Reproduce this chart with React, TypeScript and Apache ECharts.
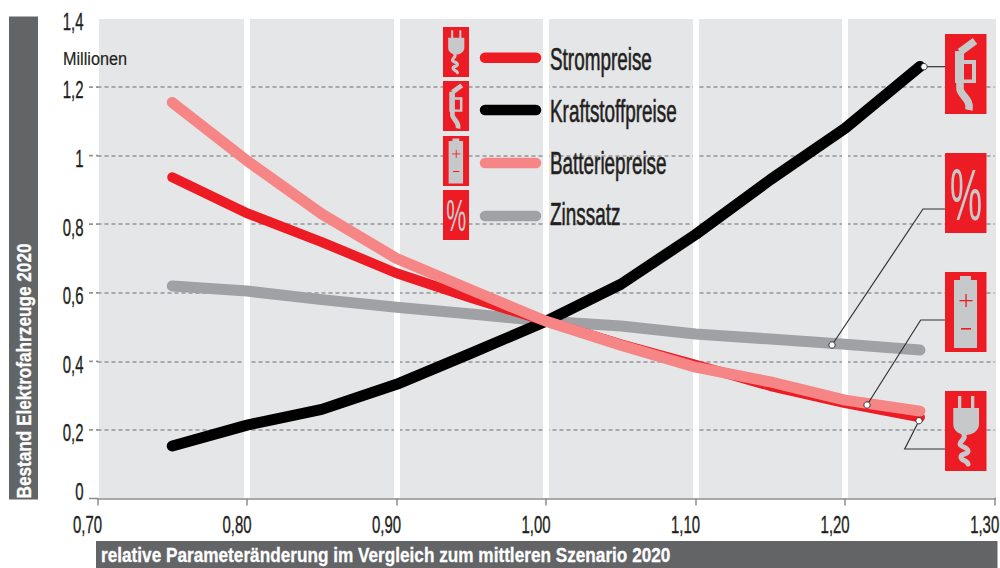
import React, { useEffect, useRef } from "react";
import * as echarts from "echarts";

const xValues = [0.75, 0.8, 0.85, 0.9, 0.95, 1.0, 1.05, 1.1, 1.15, 1.2, 1.25];
const strompreise = [0.937, 0.832, 0.748, 0.657, 0.585, 0.517, 0.45, 0.39, 0.328, 0.278, 0.237];
const kraftstoffpreise = [0.153, 0.214, 0.26, 0.333, 0.424, 0.517, 0.625, 0.77, 0.93, 1.08, 1.26];
const batteriepreise = [1.155, 0.985, 0.83, 0.7, 0.608, 0.517, 0.447, 0.383, 0.34, 0.287, 0.255];
const zinssatz = [0.62, 0.605, 0.58, 0.558, 0.538, 0.517, 0.503, 0.48, 0.465, 0.45, 0.433];

const xTicks = [0.7, 0.8, 0.9, 1.0, 1.1, 1.2, 1.3];
const xTickLabels = ["0,70", "0,80", "0,90", "1,00", "1,10", "1,20", "1,30"];
const yTicks = [0, 0.2, 0.4, 0.6, 0.8, 1.0, 1.2, 1.4];
const yTickLabels = ["0", "0,2", "0,4", "0,6", "0,8", "1", "1,2", "1,4"];

const legendNames = ["Strompreise", "Kraftstoffpreise", "Batteriepreise", "Zinssatz"];
const yAxisTitle = "Bestand Elektrofahrzeuge 2020";
const xAxisTitle = "relative Parameteränderung im Vergleich zum mittleren Szenario 2020";
const unitLabel = "Millionen";

const RED = "#ED1C24";
const PINK = "#F68685";
const BLACK = "#000000";
const GREY = "#A0A1A4";
const ICON = "#C7C8CA";
const DARK = "#636466";
const INK = "#231F20";
const FONT = '"Liberation Sans", Arial, sans-serif';

echarts.graphic.registerShape(
  "plugBody",
  echarts.graphic.extendPath(
    "M13 5H16.3V17H26V5H29.3V17H34V33C34 40 27 44 21 44C15 44 8 40 8.3 33V17H13Z",
    {}
  )
);
echarts.graphic.registerShape(
  "plugCord",
  echarts.graphic.extendPath("M19 44C21 48 15 50 15 53C15 56 23 56 23 60C23 64 16 62 16 66C16 70 22 69 23 73", {})
);
echarts.graphic.registerShape(
  "pumpBody",
  echarts.graphic.extendPath("M10 17H19V26H31V49H10ZM19 30V45.5H27V30Z", {})
);
echarts.graphic.registerShape(
  "pumpLine",
  echarts.graphic.extendPath("M30 7L15 18M15 48V55C16 62 26 65 24 76", {})
);

function icon(kind: string, x: number, y: number, sx: number, sy: number) {
  const children: any[] = [{ type: "rect", shape: { x: 0, y: 0, width: 41.5, height: 80 }, style: { fill: RED } }];
  if (kind === "plug") {
    children.push({ type: "plugBody", style: { fill: ICON } });
    children.push({ type: "plugCord", style: { fill: "none", stroke: ICON, lineWidth: 5, lineCap: "round" } });
  } else if (kind === "pump") {
    children.push({ type: "pumpLine", style: { fill: "none", stroke: ICON, lineWidth: 7.5 } });
    children.push({ type: "pumpBody", style: { fill: ICON } });
  } else if (kind === "battery") {
    children.push({ type: "rect", shape: { x: 15, y: 4, width: 11, height: 5 }, style: { fill: ICON } });
    children.push({ type: "rect", shape: { x: 9, y: 8, width: 23, height: 68 }, style: { fill: ICON } });
    children.push({ type: "rect", shape: { x: 14.5, y: 28, width: 13, height: 1.3 }, style: { fill: RED } });
    children.push({ type: "rect", shape: { x: 20.4, y: 22, width: 1.3, height: 13 }, style: { fill: RED } });
    children.push({ type: "rect", shape: { x: 16, y: 56, width: 10, height: 1.6 }, style: { fill: RED } });
  } else {
    children.push({
      type: "text",
      x: 21,
      y: 42,
      scaleX: 0.5,
      style: { text: "%", fill: ICON, font: `normal 72px ${FONT}`, textAlign: "center", textVerticalAlign: "middle" },
    });
  }
  return { type: "group", x, y, scaleX: sx, scaleY: sy, z: 12, children };
}

function callout(points: number[][]) {
  return [
    {
      type: "polyline",
      z: 11,
      shape: { points },
      style: { fill: "none", stroke: "#333333", lineWidth: 1.2 },
    },
    {
      type: "circle",
      z: 11,
      shape: { cx: points[0][0], cy: points[0][1], r: 3.2 },
      style: { fill: "#ffffff", stroke: "#333333", lineWidth: 1 },
    },
  ];
}

function condensed(text: string, x: number, y: number, size: number, scaleX: number, align: string, extra: any = {}) {
  return {
    type: "text",
    z: 9,
    x,
    y,
    scaleX,
    style: {
      text,
      fill: INK,
      stroke: INK,
      lineWidth: 0.35,
      font: `normal ${size}px ${FONT}`,
      textAlign: align,
      textVerticalAlign: "middle",
      ...extra,
    },
  };
}

const legendColors = [RED, BLACK, PINK, GREY];
const legendKinds = ["plug", "pump", "battery", "percent"];
const legendIconY = [27, 81, 136, 190];
const legendLineY = [57.7, 110, 163, 216];
const legendTextY = [59, 111, 163.5, 214];

export default function App() {
  const ref = useRef<HTMLDivElement>(null);
  useEffect(() => {
    const chart = echarts.init(ref.current!, undefined, { renderer: "svg" });
    const toPairs = (a: number[]) => a.map((v, i) => [xValues[i], v]);
    const line = (name: string, data: number[], color: string, width: number) => ({
      name,
      type: "line",
      data: toPairs(data),
      symbol: "none",
      silent: true,
      lineStyle: { color, width, cap: "round", join: "round" },
    });
    chart.setOption({
      animation: false,
      grid: { left: 97.5, right: 5.3, top: 18.5, bottom: 69.5, containLabel: false, outerBoundsMode: "none" },
      xAxis: {
        type: "value",
        min: 0.7,
        max: 1.3,
        interval: 0.1,
        axisLine: { show: true, lineStyle: { color: "#8A8C8E", width: 1.5 } },
        axisTick: { show: true, length: 7, lineStyle: { color: "#8A8C8E", width: 1.5 } },
        axisLabel: { show: false },
        splitLine: { show: true, showMinLine: false, showMaxLine: false, lineStyle: { color: "#ffffff", width: 6 } },
      },
      yAxis: {
        type: "value",
        min: 0,
        max: 1.4,
        interval: 0.2,
        axisLine: { show: false },
        axisTick: { show: false },
        axisLabel: { show: false },
        splitLine: {
          show: true,
          showMinLine: false,
          showMaxLine: false,
          lineStyle: { color: "#939598", width: 1.7, type: [4, 3] },
        },
      },
      series: [
        line("Zinssatz", zinssatz, GREY, 11),
        line("Kraftstoffpreise", kraftstoffpreise, BLACK, 11),
        line("Strompreise", strompreise, RED, 10),
        line("Batteriepreise", batteriepreise, PINK, 11),
      ],
    });

    const px = (v: number) => chart.convertToPixel({ xAxisIndex: 0 }, v) as number;
    const py = (v: number) => chart.convertToPixel({ yAxisIndex: 0 }, v) as number;
    const x0 = px(0.7);

    const legendGraphics: any[] = [];
    legendNames.forEach((n, i) => {
      legendGraphics.push(icon(legendKinds[i], 443, legendIconY[i], 26 / 41.5, 50 / 80));
      legendGraphics.push({
        type: "line",
        z: 9,
        shape: { x1: 485, y1: legendLineY[i], x2: 536, y2: legendLineY[i] },
        style: { stroke: legendColors[i], lineWidth: 10.5, lineCap: "round" },
      });
      legendGraphics.push(condensed(n, 550, legendTextY[i], 31, 0.61, "left", { lineWidth: 0.6 }));
    });

    const xLabels = xTicks.map((v, i) => condensed(xTickLabels[i], px(v) + 4.5, 525, 23, 0.65, "right"));
    const yLabels = yTicks.map((v, i) =>
      condensed(yTickLabels[i], 83.5, v === 0 ? 491.5 : py(v) + 3, 23, 0.65, "right")
    );
    const yStubs = yTicks
      .filter((v) => v > 0 && v < 1.4)
      .map((v) => ({
        type: "line",
        z: 1,
        shape: { x1: 89, y1: py(v), x2: x0 + 1, y2: py(v) },
        style: { stroke: "#939598", lineWidth: 1.7, lineDash: [4, 3] },
      }));

    chart.setOption({
      graphic: [
        { type: "rect", z: -1, shape: { x: 99, y: 19, width: 897, height: 479 }, style: { fill: "#E5E6E8" } },
        { type: "rect", z: 8, shape: { x: 9, y: 16.5, width: 29, height: 483 }, style: { fill: DARK } },
        { type: "rect", z: 8, shape: { x: 96, y: 541, width: 901.5, height: 27 }, style: { fill: DARK } },
        {
          type: "line",
          z: 1,
          shape: { x1: 89, y1: py(0), x2: x0 + 1, y2: py(0) },
          style: { stroke: "#8A8C8E", lineWidth: 1.5 },
        },
        {
          type: "line",
          z: 1,
          shape: { x1: px(1.3), y1: py(0), x2: 996, y2: py(0) },
          style: { stroke: "#8A8C8E", lineWidth: 1.5 },
        },
        ...yStubs,
        {
          type: "text",
          z: 9,
          x: 24,
          y: 371,
          rotation: Math.PI / 2,
          scaleX: 0.86,
          style: { text: yAxisTitle, fill: "#ffffff", stroke: "#ffffff", lineWidth: 0.3, font: `bold 20px ${FONT}`, textAlign: "center", textVerticalAlign: "middle" },
        },
        {
          type: "text",
          z: 9,
          x: 101,
          y: 555,
          scaleX: 0.86,
          style: { text: xAxisTitle, fill: "#ffffff", stroke: "#ffffff", lineWidth: 0.3, font: `bold 20px ${FONT}`, textAlign: "left", textVerticalAlign: "middle" },
        },
        condensed(unitLabel, 63, 59, 19, 0.855, "left", { lineWidth: 0.2 }),
        ...xLabels,
        ...yLabels,
        ...legendGraphics,
        icon("pump", 945, 34, 1, 1),
        icon("percent", 945, 153, 1, 1),
        icon("battery", 945, 272, 1, 1),
        icon("plug", 945, 391, 1, 1),
        ...callout([[924, 66.7], [945, 66.7]]),
        ...callout([[832, 345], [923, 209], [945, 209]]),
        ...callout([[867, 405], [920.7, 320], [945, 320]]),
        ...callout([[919, 420.7], [904.7, 449], [945, 449]]),
      ],
    });
    return () => chart.dispose();
  }, []);
  return <div ref={ref} style={{ position: "absolute", left: 0, top: 0, width: 1000, height: 568 }} />;
}
